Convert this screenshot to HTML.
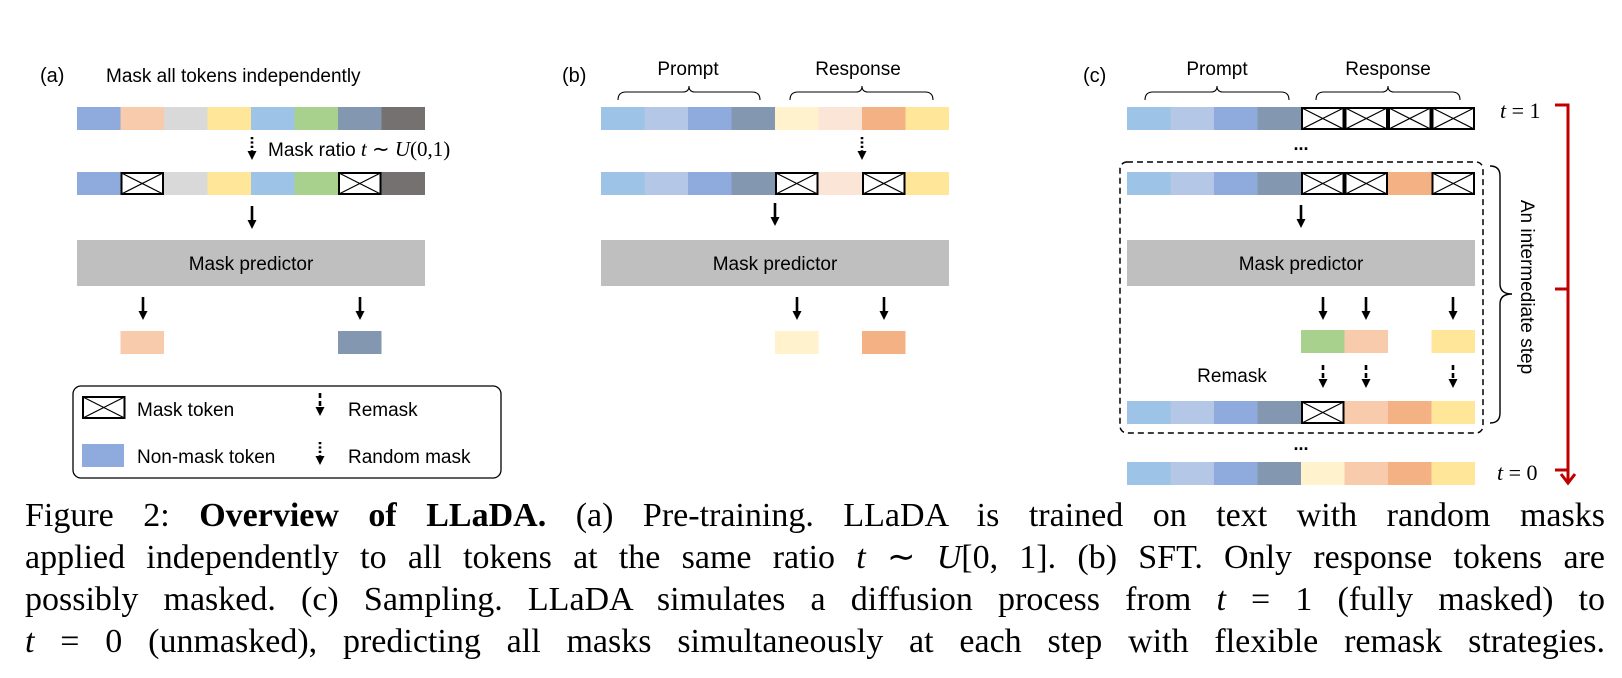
<!DOCTYPE html>
<html><head><meta charset="utf-8">
<style>
html,body{margin:0;padding:0;background:#fff;}
#wrap{position:relative;width:1622px;height:678px;overflow:hidden;background:#fff;}
svg{position:absolute;left:0;top:0;}
.cap{position:absolute;left:25px;width:1580px;font-family:"Liberation Serif",serif;font-size:34px;line-height:42px;white-space:nowrap;text-align:justify;text-align-last:justify;color:#000;}
.cap i{font-style:italic;}
</style></head><body><div id="wrap">
<svg width="1622" height="678" viewBox="0 0 1622 678" xmlns="http://www.w3.org/2000/svg">
<defs>
<g id="m"><rect x="1" y="1" width="41.5" height="21" fill="#fff" stroke="#000" stroke-width="2"/><line x1="1" y1="1" x2="42.5" y2="22" stroke="#000" stroke-width="1.2"/><line x1="1" y1="22" x2="42.5" y2="1" stroke="#000" stroke-width="1.2"/></g>
<g id="sa"><line x1="0" y1="0" x2="0" y2="15" stroke="#000" stroke-width="2.6"/><polygon points="-4.5,14 4.5,14 0,23" fill="#000"/></g>
<g id="da"><line x1="0" y1="0" x2="0" y2="15" stroke="#000" stroke-width="2.6" stroke-dasharray="5,3"/><polygon points="-4.5,14 4.5,14 0,23" fill="#000"/></g>
<g id="ta"><line x1="0" y1="0" x2="0" y2="15" stroke="#000" stroke-width="2.6" stroke-dasharray="2.2,2.2"/><polygon points="-4.5,14 4.5,14 0,23" fill="#000"/></g>
</defs>
<g font-family="Liberation Sans, sans-serif" font-size="19" fill="#000">
<!-- (a) -->
<text x="40" y="82" font-size="20">(a)</text>
<text x="106" y="82">Mask all tokens independently</text>
<rect x="77" y="107" width="43.5" height="23" fill="#8faadc"/><rect x="120.5" y="107" width="43.5" height="23" fill="#f8cbad"/><rect x="164" y="107" width="43.5" height="23" fill="#d9d9d9"/><rect x="207.5" y="107" width="43.5" height="23" fill="#ffe699"/><rect x="251" y="107" width="43.5" height="23" fill="#9dc3e6"/><rect x="294.5" y="107" width="43.5" height="23" fill="#a9d18e"/><rect x="338" y="107" width="43.5" height="23" fill="#8497b0"/><rect x="381.5" y="107" width="43.5" height="23" fill="#767171"/>
<use href="#ta" x="252" y="137"/>
<text x="268" y="156">Mask ratio <tspan font-family="Liberation Serif, serif" font-style="italic" font-size="21">t</tspan><tspan font-family="Liberation Serif, serif" font-size="21"> ∼ </tspan><tspan font-family="Liberation Serif, serif" font-style="italic" font-size="21">U</tspan><tspan font-family="Liberation Serif, serif" font-size="21">(0,1)</tspan></text>
<rect x="77" y="172" width="43.5" height="23" fill="#8faadc"/><use href="#m" x="120.5" y="172"/><rect x="164" y="172" width="43.5" height="23" fill="#d9d9d9"/><rect x="207.5" y="172" width="43.5" height="23" fill="#ffe699"/><rect x="251" y="172" width="43.5" height="23" fill="#9dc3e6"/><rect x="294.5" y="172" width="43.5" height="23" fill="#a9d18e"/><use href="#m" x="338" y="172"/><rect x="381.5" y="172" width="43.5" height="23" fill="#767171"/>
<use href="#sa" x="252" y="206"/>
<rect x="77" y="240" width="348" height="46" fill="#bfbfbf"/>
<text x="251" y="270" text-anchor="middle">Mask predictor</text>
<use href="#sa" x="143" y="297"/><use href="#sa" x="360" y="297"/>
<rect x="120.5" y="331" width="43.5" height="23" fill="#f8cbad"/><rect x="338" y="331" width="43.5" height="23" fill="#8497b0"/>
<!-- legend -->
<rect x="73" y="386" width="428" height="92" rx="8" fill="none" stroke="#000" stroke-width="1.3"/>
<use href="#m" x="82" y="396" transform="translate(0,0)"/>
<text x="137" y="416">Mask token</text>
<use href="#da" x="320" y="393"/>
<text x="348" y="416">Remask</text>
<rect x="82" y="444" width="42" height="23" fill="#8faadc"/>
<text x="137" y="463">Non-mask token</text>
<use href="#ta" x="320" y="442"/>
<text x="348" y="463">Random mask</text>
<!-- (b) -->
<text x="562" y="82" font-size="20">(b)</text>
<text x="688" y="75" text-anchor="middle">Prompt</text>
<text x="858" y="75" text-anchor="middle">Response</text>
<path d="M618 100 Q618 92 626 92 L683 92 Q689 92 689 86 Q689 92 695 92 L752 92 Q760 92 760 100" fill="none" stroke="#000" stroke-width="1.1"/>
<path d="M790 100 Q790 92 798 92 L856 92 Q862 92 862 86 Q862 92 868 92 L925 92 Q933 92 933 100" fill="none" stroke="#000" stroke-width="1.1"/>
<rect x="601" y="107" width="43.5" height="23" fill="#9dc3e6"/><rect x="644.5" y="107" width="43.5" height="23" fill="#b4c7e7"/><rect x="688" y="107" width="43.5" height="23" fill="#8faadc"/><rect x="731.5" y="107" width="43.5" height="23" fill="#8497b0"/><rect x="775" y="107" width="43.5" height="23" fill="#fff2cc"/><rect x="818.5" y="107" width="43.5" height="23" fill="#fbe5d6"/><rect x="862" y="107" width="43.5" height="23" fill="#f4b183"/><rect x="905.5" y="107" width="43.5" height="23" fill="#ffe699"/>
<use href="#ta" x="862" y="137"/>
<rect x="601" y="172" width="43.5" height="23" fill="#9dc3e6"/><rect x="644.5" y="172" width="43.5" height="23" fill="#b4c7e7"/><rect x="688" y="172" width="43.5" height="23" fill="#8faadc"/><rect x="731.5" y="172" width="43.5" height="23" fill="#8497b0"/><use href="#m" x="775" y="172"/><rect x="818.5" y="172" width="43.5" height="23" fill="#fbe5d6"/><use href="#m" x="862" y="172"/><rect x="905.5" y="172" width="43.5" height="23" fill="#ffe699"/>
<use href="#sa" x="775" y="203"/>
<rect x="601" y="240" width="348" height="46" fill="#bfbfbf"/>
<text x="775" y="270" text-anchor="middle">Mask predictor</text>
<use href="#sa" x="797" y="297"/><use href="#sa" x="884" y="297"/>
<rect x="775" y="331" width="43.5" height="23" fill="#fff2cc"/><rect x="862" y="331" width="43.5" height="23" fill="#f4b183"/>
<!-- (c) -->
<text x="1083" y="82" font-size="20">(c)</text>
<text x="1217" y="75" text-anchor="middle">Prompt</text>
<text x="1388" y="75" text-anchor="middle">Response</text>
<path d="M1145 100 Q1145 92 1153 92 L1211 92 Q1217 92 1217 86 Q1217 92 1223 92 L1281 92 Q1289 92 1289 100" fill="none" stroke="#000" stroke-width="1.1"/>
<path d="M1316 100 Q1316 92 1324 92 L1382 92 Q1388 92 1388 86 Q1388 92 1394 92 L1452 92 Q1460 92 1460 100" fill="none" stroke="#000" stroke-width="1.1"/>
<rect x="1127" y="107" width="43.5" height="23" fill="#9dc3e6"/><rect x="1170.5" y="107" width="43.5" height="23" fill="#b4c7e7"/><rect x="1214" y="107" width="43.5" height="23" fill="#8faadc"/><rect x="1257.5" y="107" width="43.5" height="23" fill="#8497b0"/><use href="#m" x="1301" y="107"/><use href="#m" x="1344.5" y="107"/><use href="#m" x="1388" y="107"/><use href="#m" x="1431.5" y="107"/>
<text x="1301" y="150" text-anchor="middle" font-weight="bold" font-size="18">...</text>
<rect x="1120" y="162" width="363" height="271" rx="7" fill="none" stroke="#000" stroke-width="1.5" stroke-dasharray="6,4"/>
<rect x="1127" y="172" width="43.5" height="23" fill="#9dc3e6"/><rect x="1170.5" y="172" width="43.5" height="23" fill="#b4c7e7"/><rect x="1214" y="172" width="43.5" height="23" fill="#8faadc"/><rect x="1257.5" y="172" width="43.5" height="23" fill="#8497b0"/><use href="#m" x="1301" y="172"/><use href="#m" x="1344.5" y="172"/><rect x="1388" y="172" width="43.5" height="23" fill="#f4b183"/><use href="#m" x="1431.5" y="172"/>
<use href="#sa" x="1301" y="205"/>
<rect x="1127" y="240" width="348" height="46" fill="#bfbfbf"/>
<text x="1301" y="270" text-anchor="middle">Mask predictor</text>
<use href="#sa" x="1323" y="297"/><use href="#sa" x="1366" y="297"/><use href="#sa" x="1453" y="297"/>
<rect x="1301" y="330" width="43.5" height="23" fill="#a9d18e"/><rect x="1344.5" y="330" width="43.5" height="23" fill="#f8cbad"/><rect x="1431.5" y="330" width="43.5" height="23" fill="#ffe699"/>
<text x="1232" y="382" text-anchor="middle">Remask</text>
<use href="#da" x="1323" y="365"/><use href="#da" x="1366" y="365"/><use href="#da" x="1453" y="365"/>
<rect x="1127" y="401" width="43.5" height="23" fill="#9dc3e6"/><rect x="1170.5" y="401" width="43.5" height="23" fill="#b4c7e7"/><rect x="1214" y="401" width="43.5" height="23" fill="#8faadc"/><rect x="1257.5" y="401" width="43.5" height="23" fill="#8497b0"/><use href="#m" x="1301" y="401"/><rect x="1344.5" y="401" width="43.5" height="23" fill="#f8cbad"/><rect x="1388" y="401" width="43.5" height="23" fill="#f4b183"/><rect x="1431.5" y="401" width="43.5" height="23" fill="#ffe699"/>
<text x="1301" y="450" text-anchor="middle" font-weight="bold" font-size="18">...</text>
<rect x="1127" y="462" width="43.5" height="23" fill="#9dc3e6"/><rect x="1170.5" y="462" width="43.5" height="23" fill="#b4c7e7"/><rect x="1214" y="462" width="43.5" height="23" fill="#8faadc"/><rect x="1257.5" y="462" width="43.5" height="23" fill="#8497b0"/><rect x="1301" y="462" width="43.5" height="23" fill="#fff2cc"/><rect x="1344.5" y="462" width="43.5" height="23" fill="#f8cbad"/><rect x="1388" y="462" width="43.5" height="23" fill="#f4b183"/><rect x="1431.5" y="462" width="43.5" height="23" fill="#ffe699"/>
<!-- curly brace -->
<path d="M1490 166 Q1500 166 1500 176 L1500 284 Q1500 294 1512 294 Q1500 294 1500 304 L1500 413 Q1500 423 1490 423" fill="none" stroke="#000" stroke-width="1.4"/>
<text transform="translate(1521,287) rotate(90)" text-anchor="middle">An intermediate step</text>
<!-- t labels -->
<text x="1500" y="118" font-family="Liberation Serif, serif" font-size="22"><tspan font-style="italic">t</tspan> = 1</text>
<text x="1497" y="480" font-family="Liberation Serif, serif" font-size="22"><tspan font-style="italic">t</tspan> = 0</text>
<!-- red -->
<g stroke="#c00000" stroke-width="3" fill="none">
<polyline points="1555,105 1568,105 1568,482"/>
<line x1="1555" y1="289" x2="1568" y2="289"/>
<line x1="1555" y1="470" x2="1568" y2="470"/>
<polyline points="1561,474 1568,483 1575,474"/>
</g>
</g>
</svg>
<div class="cap" style="top:495px">Figure 2: <b>Overview of LLaDA.</b> (a) Pre-training. LLaDA is trained on text with random masks</div>
<div class="cap" style="top:537px">applied independently to all tokens at the same ratio <i>t</i> ∼ <i>U</i>[0, 1]. (b) SFT. Only response tokens are</div>
<div class="cap" style="top:579px">possibly masked. (c) Sampling. LLaDA simulates a diffusion process from <i>t</i> = 1 (fully masked) to</div>
<div class="cap" style="top:621px"><i>t</i> = 0 (unmasked), predicting all masks simultaneously at each step with flexible remask strategies.</div>
</div></body></html>
